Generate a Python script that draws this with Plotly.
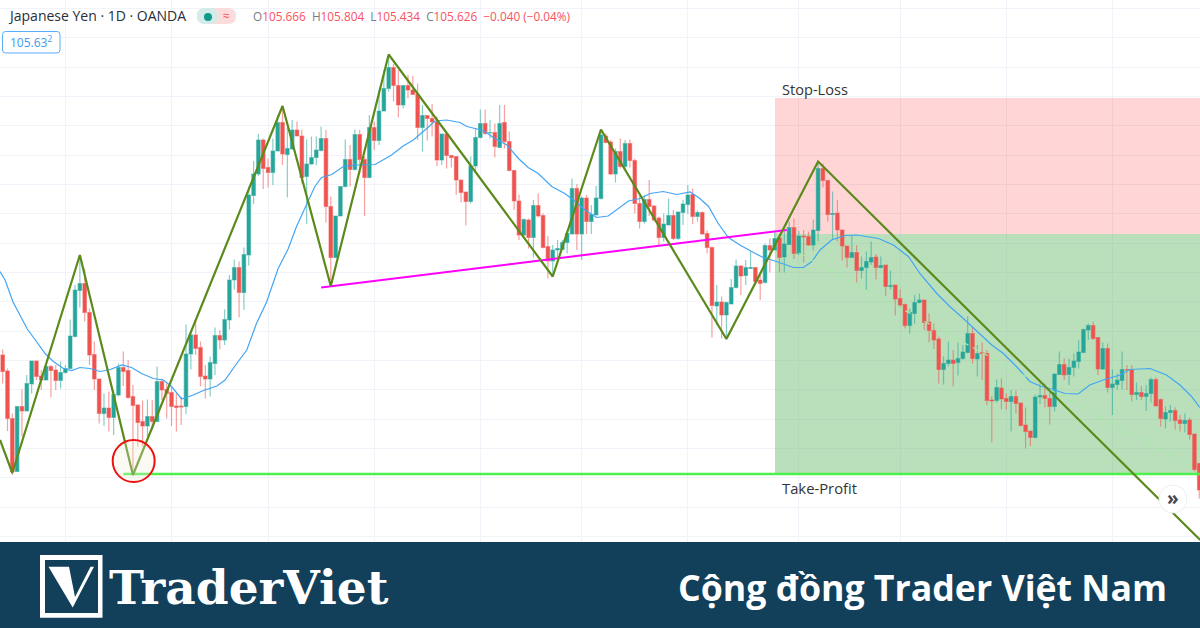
import plotly.graph_objects as go

# Daily candles (bar index = position in list)
open_ = [108.3,107.98,107.03,105.97,107.27,107.18,107.72,108.18,107.88,107.8,
108.07,108.0,107.79,107.95,108.03,108.67,109.59,109.73,109.15,108.31,
107.82,107.13,107.24,107.05,107.5,108.05,107.99,107.47,107.3,106.97,
106.88,107.07,106.97,107.77,107.61,107.55,107.28,107.28,107.27,108.32,
108.7,108.45,107.88,107.82,108.13,108.69,108.6,109.0,109.8,110.05,
109.55,110.3,111.49,111.92,112.6,112.05,111.95,112.38,112.95,112.31,
112.42,112.8,112.68,111.87,112.12,112.25,112.39,112.63,111.27,110.25,
111.08,111.67,112.21,112.01,112.71,112.21,111.85,112.85,112.59,113.18,
113.63,114.05,113.69,113.3,113.69,113.6,113.51,112.85,113.09,113.03,
112.96,112.2,112.72,112.29,112.27,111.8,111.56,111.37,112.08,112.65,
112.93,112.74,112.75,112.45,112.95,112.57,111.99,111.38,110.7,111.0,
110.65,111.29,111.09,110.47,110.18,110.4,110.41,110.55,110.72,111.63,
110.72,111.44,110.97,111.1,111.43,112.68,112.56,111.92,112.37,112.07,
112.53,112.19,111.33,110.97,111.41,111.28,111.04,110.65,110.9,111.09,
110.63,111.15,111.31,111.51,111.07,111.15,110.73,110.45,109.28,109.36,
109.1,109.32,109.65,110.08,109.89,110.03,110.05,109.8,109.75,110.49,
110.4,110.64,110.26,110.51,110.85,110.33,110.68,110.67,110.5,110.79,
112.03,111.79,111.11,111.14,110.8,110.48,110.25,110.35,109.99,110.05,
110.16,110.26,110.05,110.1,109.67,109.7,109.43,109.31,108.89,109.13,
109.35,109.4,108.96,108.79,108.62,108.01,108.13,108.2,108.15,108.23,
108.35,108.73,108.22,108.35,108.33,107.4,107.39,107.64,107.43,107.37,
107.47,107.34,106.9,106.78,106.65,107.46,107.49,107.43,107.27,107.91,
108.11,107.91,108.05,108.17,108.35,108.8,108.89,108.65,108.02,108.43,
107.65,107.71,107.79,108.01,108.01,107.51,107.55,107.47,107.53,107.81,
107.41,107.02,107.15,107.19,107.0,106.93,107.0,106.72,106.13]

close = [107.97,107.03,105.97,107.27,107.18,107.73,108.18,107.87,107.8,108.07,
107.99,107.79,107.95,108.03,108.68,109.6,109.73,109.15,108.3,107.82,
107.13,107.24,107.05,107.51,108.05,107.97,107.45,107.29,106.95,106.88,
107.07,106.97,107.77,107.6,107.53,107.27,107.25,107.26,108.32,108.7,
108.43,107.87,107.82,108.15,108.69,108.6,109.01,109.8,110.05,109.55,
110.31,111.5,111.92,112.6,112.03,111.95,112.38,112.95,112.32,112.43,
112.8,112.68,111.85,112.12,112.25,112.4,112.63,111.27,110.25,111.08,
111.67,112.21,112.01,112.71,112.21,111.85,112.85,112.59,113.18,113.63,
114.05,113.69,113.3,113.69,113.6,113.51,112.85,113.09,113.03,112.96,
112.2,112.72,112.29,112.25,111.8,111.55,111.37,112.08,112.65,112.93,
112.73,112.75,112.47,112.93,112.57,111.99,111.38,110.7,111.01,110.65,
111.29,111.08,110.45,110.18,110.4,110.43,110.55,110.73,111.63,110.72,
111.44,110.97,111.11,111.44,112.7,112.55,111.92,112.37,112.07,112.53,
112.19,111.33,110.97,111.41,111.27,111.0,110.65,110.92,111.09,110.63,
111.16,111.32,111.5,111.07,111.15,110.72,110.45,109.29,109.36,109.1,
109.35,109.65,110.08,109.88,110.05,110.05,109.77,109.73,110.49,110.4,
110.63,110.25,110.52,110.85,110.33,110.68,110.66,110.5,110.8,112.03,
111.79,111.11,111.13,110.8,110.48,110.25,110.35,109.99,110.05,110.17,
110.25,110.05,110.09,109.67,109.69,109.42,109.3,108.89,109.15,109.35,
109.4,108.95,108.79,108.6,108.01,108.13,108.2,108.13,108.23,108.36,
108.73,108.23,108.33,108.33,107.39,107.38,107.65,107.42,107.37,107.47,
107.33,106.89,106.77,106.65,107.46,107.49,107.43,107.27,107.92,108.11,
107.9,108.05,108.18,108.36,108.81,108.89,108.63,108.02,108.43,107.65,
107.72,107.8,108.01,108.0,107.51,107.55,107.47,107.53,107.81,107.28,
107.03,107.15,107.19,106.99,106.93,106.99,106.71,106.01,105.6]

high = [108.41,108.03,107.13,107.27,107.61,107.9,108.18,108.18,108.0,108.1,
108.1,108.1,108.17,108.1,109.01,109.7,110.3,110.03,109.23,108.57,
107.82,107.53,107.57,107.6,108.13,108.37,108.2,107.7,107.32,107.39,
107.41,107.4,108.07,107.83,107.73,107.67,107.53,107.47,108.91,108.77,
109.03,108.57,108.1,108.27,108.85,108.8,109.21,109.9,110.21,110.17,
110.45,111.67,112.18,112.72,112.63,112.23,112.63,113.1,113.27,112.85,
113.0,112.97,112.81,112.61,112.67,112.67,112.87,112.8,111.47,111.08,
111.67,112.61,112.5,112.81,112.8,112.27,113.1,112.97,113.6,114.0,
114.3,114.12,114.0,113.7,113.9,113.88,113.73,113.3,113.1,113.32,
113.07,112.73,112.73,112.3,112.27,111.8,111.56,112.27,112.83,113.21,
113.21,113.0,112.93,113.3,113.3,112.77,112.0,111.51,111.03,111.03,
111.4,111.53,111.13,110.68,110.5,110.6,110.6,110.8,111.83,111.72,
111.48,111.5,111.3,111.68,112.8,112.73,112.6,112.43,112.63,112.6,
112.61,112.23,111.48,111.5,111.8,111.3,111.07,111.13,111.43,111.2,
111.17,111.4,111.7,111.63,111.19,111.17,110.79,110.47,109.7,109.47,
109.37,109.82,110.21,110.1,110.2,110.37,110.05,109.9,110.53,110.63,
110.77,110.64,110.77,110.97,111.03,110.78,110.8,110.77,111.01,112.17,
112.13,111.8,111.57,111.4,110.81,110.48,110.68,110.5,110.27,110.37,
110.57,110.32,110.27,110.1,109.99,109.7,109.61,109.33,109.23,109.5,
109.53,109.41,109.13,108.93,108.67,108.27,108.57,108.4,108.55,108.5,
109.08,108.87,108.5,108.55,108.4,107.48,107.81,107.83,107.53,107.6,
107.59,107.35,107.25,106.78,107.51,107.73,107.73,107.55,107.92,108.37,
108.23,108.23,108.33,108.6,108.83,108.93,108.97,108.65,108.55,108.53,
108.01,107.93,108.37,108.1,108.1,107.75,107.68,107.7,107.85,107.85,
107.43,107.27,107.3,107.25,107.1,107.13,107.05,106.73,106.13]

low = [107.73,106.78,105.9,105.97,106.67,107.18,107.53,107.8,107.6,107.8,
107.45,107.6,107.63,107.93,108.03,108.65,109.25,108.97,108.1,107.6,
106.93,106.88,106.77,106.7,107.47,107.68,107.42,105.9,106.47,106.47,
106.67,106.8,106.97,107.4,107.03,106.88,106.77,106.9,107.12,108.01,
108.3,107.67,107.43,107.47,107.9,108.41,108.5,108.81,109.61,109.05,
109.2,110.09,111.32,111.88,111.62,111.65,111.7,112.37,112.1,111.45,
112.4,112.67,111.73,110.92,112.1,112.1,112.37,110.95,109.8,110.25,
111.07,111.65,111.67,111.99,111.93,111.08,111.83,112.4,112.5,113.18,
113.57,113.37,113.05,113.23,113.43,113.5,112.6,112.37,112.59,112.67,
112.08,112.1,112.03,112.05,111.5,111.35,110.89,111.33,111.97,112.63,
112.7,112.63,112.25,112.45,112.43,111.97,111.2,110.6,110.67,110.43,
110.25,111.05,110.43,109.83,109.87,110.23,110.4,110.33,110.72,110.4,
110.2,110.72,110.72,111.1,111.41,112.53,111.9,111.75,112.03,112.03,
112.05,111.13,110.83,110.93,111.08,110.97,110.47,110.57,110.9,110.6,
110.6,110.9,111.12,110.92,110.97,110.7,110.33,108.65,108.9,108.63,
108.63,109.32,109.63,109.5,109.7,110.03,109.73,109.4,109.73,109.95,
110.4,109.95,109.95,110.5,110.22,110.3,110.15,110.48,110.39,110.57,
111.65,110.97,110.6,110.57,110.19,110.05,110.25,109.75,109.83,109.6,
110.1,109.81,110.03,109.48,109.61,109.09,109.25,108.83,108.73,108.93,
109.33,108.8,108.55,108.42,107.73,107.71,108.07,107.67,107.89,108.2,
108.33,108.13,107.87,107.8,107.3,106.55,107.35,107.21,107.21,106.77,
107.13,106.87,106.43,106.48,106.63,107.32,107.25,106.91,107.17,107.9,
107.8,107.7,107.87,108.03,108.35,108.6,108.6,107.9,108.0,107.55,
107.1,107.61,107.61,107.6,107.37,107.4,107.4,107.18,107.35,107.27,
106.87,106.83,106.97,106.81,106.77,106.75,106.61,105.97,105.43]

# Moving average, read at these bars
ma_x = [-0.55,0.5,2.1,2.9,5.1,7,8.8,10.5,12.6,14.3,16,18.1,20.2,22.3,24.7,26.7,28.8,31.2,33.3,35,37.1,39.5,41.6,44.4,46.1,48.5,50.6,52.6,54.7,
57.1,59.2,60.9,63,64.7,66.1,68.2,70.6,73.4,77.2,80.6,83,85.1,87.9,89.6,92,94.8,96.2,99.6,102,
104.5,106.9,108.9,111,113.8,116.5,118.3,120.7,123.1,125.5,127.6,129.7,132.1,134.2,136.9,139.7,142.5,144.5,146.3,148.3,150.4,152.8,155.6,157.6,
160.4,163.9,166,167.7,169.4,171.8,174.6,177,181.5,184.6,187.7,190.1,193.6,196.3,199.1,202.5,205,207.4,210.1,212.9,215,217.7,220.2,222.9,225.3,228.1,231.6,233.6,237.8,241.2,244,246.4,248.1]
ma_y = [109.97,109.8,109.37,109.23,108.82,108.57,108.33,108.17,108.03,107.99,108.05,108.03,107.97,108.01,108.1,108.05,107.93,107.83,107.8,107.67,107.42,107.5,107.59,107.68,107.8,108.13,108.4,108.93,109.36,
110.03,110.43,110.87,111.3,111.67,111.85,111.91,112.07,112.1,112.11,112.3,112.48,112.6,112.83,112.98,113.0,112.95,112.87,112.79,112.63,
112.5,112.23,112.05,111.93,111.67,111.53,111.4,111.2,111.05,111.08,111.23,111.38,111.43,111.53,111.57,111.51,111.56,111.43,111.27,110.93,110.65,110.5,110.35,110.25,
110.17,110.05,110.05,110.17,110.4,110.6,110.69,110.7,110.63,110.5,110.27,109.93,109.53,109.27,109.03,108.73,108.5,108.33,108.07,107.77,107.68,107.61,107.53,107.52,107.7,107.8,107.9,108.01,108.03,107.9,107.7,107.47,107.25]

# Drawings
zigzag_x = [-0.55,2,16,27,58,68,80,114,124,150,169,248.2]
zigzag_y = [106.6,105.94,110.3,105.9,113.28,109.68,114.31,109.87,112.81,108.62,112.17,104.6]
trend_x = [66,162.5]
trend_y = [109.65,110.8]
target_x = [25,248.2]
target_y = [105.92,105.92]
path_x = [165,247]
path_y = [110.34,106.04]
stop_price = 113.44
entry_price = 110.72
profit_price = 105.92
entry_bar = 160.07
last_bar = 248.2
month_bars = [13,35,55,77,99,120,142,165,186,208,230]
grid_first = 110.534
grid_step = 0.5866

header_title = "Japanese Yen · 1D · OANDA"
ohlc_labels = ["O","H","L","C"]
ohlc_values = ["105.666","105.804","105.434","105.626"]
change_text = "−0.040 (−0.04%)"

Y_TOP = 115.4
Y_BOTTOM = 102.84
X_LEFT = -0.553
X_RIGHT = 248.15

assert len(open_) == len(close) == len(high) == len(low)
bars = list(range(len(open_)))

UP = "#26a69a"
DOWN = "#ef5350"
OLIVE = "#5b8a1b"

fig = go.Figure()
fig.add_trace(go.Candlestick(
    x=bars, open=open_, high=high, low=low, close=close,
    whiskerwidth=0,
    increasing=dict(fillcolor=UP, line=dict(color="rgba(38,166,154,0.55)", width=1.2)),
    decreasing=dict(fillcolor=DOWN, line=dict(color="rgba(239,83,80,0.55)", width=1.2)),
    hoverinfo="skip", showlegend=False))
fig.add_trace(go.Scatter(x=ma_x, y=ma_y, mode="lines", line=dict(color="#42a5f5", width=1.2), hoverinfo="skip", showlegend=False))
fig.add_trace(go.Scatter(x=path_x, y=path_y, mode="lines", line=dict(color="#a5eaa5", width=1.2, dash="6px,5px"), hoverinfo="skip", showlegend=False))
fig.add_trace(go.Scatter(x=target_x, y=target_y, mode="lines", line=dict(color="#4df04d", width=2.5), hoverinfo="skip", showlegend=False))
fig.add_trace(go.Scatter(x=trend_x, y=trend_y, mode="lines", line=dict(color="#ff00ff", width=2), hoverinfo="skip", showlegend=False))
fig.add_trace(go.Scatter(x=zigzag_x, y=zigzag_y, mode="lines", line=dict(color=OLIVE, width=2.2), hoverinfo="skip", showlegend=False))

def px(v):
    return v / 1200
def py(v):
    return 1 - v / 628
def poly(points):
    return "M" + " L".join(f"{px(a):.5f},{py(b):.5f}" for a, b in points) + " Z"
def rounded(x0, y0, x1, y1, r):
    return (f"M{px(x0+r):.5f},{py(y0):.5f} L{px(x1-r):.5f},{py(y0):.5f} Q{px(x1):.5f},{py(y0):.5f} {px(x1):.5f},{py(y0+r):.5f} "
            f"L{px(x1):.5f},{py(y1-r):.5f} Q{px(x1):.5f},{py(y1):.5f} {px(x1-r):.5f},{py(y1):.5f} "
            f"L{px(x0+r):.5f},{py(y1):.5f} Q{px(x0):.5f},{py(y1):.5f} {px(x0):.5f},{py(y1-r):.5f} "
            f"L{px(x0):.5f},{py(y0+r):.5f} Q{px(x0):.5f},{py(y0):.5f} {px(x0+r):.5f},{py(y0):.5f} Z")

NAVY = "#123f5a"
shapes = [
    dict(type="rect", xref="x", yref="y", x0=entry_bar, x1=last_bar, y0=entry_price, y1=stop_price,
         fillcolor="rgba(255,0,0,0.165)", line_width=0, layer="between"),
    dict(type="rect", xref="x", yref="y", x0=entry_bar, x1=last_bar, y0=profit_price, y1=entry_price,
         fillcolor="rgba(76,175,80,0.39)", line_width=0, layer="between"),
    dict(type="circle", xref="x", yref="y", x0=22.8, x1=31.5, y0=105.76, y1=106.6,
         fillcolor="rgba(240,240,215,0.3)", line=dict(color="#ee1111", width=2), layer="above"),
    # scroll button
    dict(type="circle", xref="paper", yref="paper", x0=px(1159), x1=px(1187), y0=py(513), y1=py(485),
         fillcolor="white", line=dict(color="#eceef2", width=1), layer="above"),
    # status pill
    dict(type="path", xref="paper", yref="paper", path=rounded(197, 8, 236, 24, 8), fillcolor="#fbdcdc", line_width=0, layer="above"),
    dict(type="path", xref="paper", yref="paper", path=rounded(197, 8, 218, 24, 8), fillcolor="#d3ecea", line_width=0, layer="above"),
    dict(type="circle", xref="paper", yref="paper", x0=px(204), x1=px(212), y0=py(21), y1=py(13), fillcolor="#109a8c", line_width=0, layer="above"),
    # price box
    dict(type="path", xref="paper", yref="paper", path=rounded(2.5, 31.5, 60, 53, 3), fillcolor="white",
         line=dict(color="#5aaef5", width=1), layer="above"),
    # footer band and logo
    dict(type="rect", xref="paper", yref="paper", x0=0, x1=1, y0=0, y1=py(542), fillcolor=NAVY, line_width=0, layer="above"),
    dict(type="rect", xref="paper", yref="paper", x0=px(40), x1=px(102.5), y0=py(617.7), y1=py(555), fillcolor="white", line_width=0, layer="above"),
    dict(type="rect", xref="paper", yref="paper", x0=px(45), x1=px(98), y0=py(613), y1=py(560), fillcolor=NAVY, line_width=0, layer="above"),
    dict(type="path", xref="paper", yref="paper", fillcolor="white", line_width=0, layer="above",
         path=poly([(48.5, 566.7), (69, 566.7), (75, 597), (90.5, 566.7), (94, 566.7), (72.7, 607.5)])),
]

def ann(x, y, text, size, color, anchor="left", family="Open Sans", **kw):
    return dict(xref="paper", yref="paper", x=px(x), y=py(y), text=text, showarrow=False,
                xanchor=anchor, yanchor="middle", font=dict(family=family, size=size, color=color), **kw)

ohlc_html = "&nbsp;&nbsp;".join(
    f'<span style="color:#787b86">{l}</span>{v}' for l, v in zip(ohlc_labels, ohlc_values)
) + "&nbsp;&nbsp;" + change_text

annotations = [
    ann(6, 16, header_title, 14, "#2a2e39"),
    ann(226.5, 16, "≈", 12, "#ef5350", anchor="center"),
    ann(251, 16, ohlc_html, 11.8, "#f7525f"),
    ann(8, 42, '105.63<sup>2</sup>', 12, "#3b9cf0"),
    dict(xref="x", yref="y", x=161.1, y=stop_price + 0.18, text="Stop-Loss", showarrow=False, xanchor="left", yanchor="middle",
         font=dict(family="Open Sans", size=14.6, color="#333333")),
    dict(xref="x", yref="y", x=161.1, y=profit_price - 0.28, text="Take-Profit", showarrow=False, xanchor="left", yanchor="middle",
         font=dict(family="Open Sans", size=14.8, color="#333333")),
    ann(1173, 498, "<b>»</b>", 19, "#434651", anchor="center"),
    ann(107, 587, "<b>TraderViet</b>", 47, "white", family="DejaVu Serif"),
    ann(1168.5, 587, "<b>Cộng đồng Trader Việt Nam</b>", 35.7, "white", anchor="right"),
]

fig.update_layout(
    width=1200, height=628, margin=dict(l=0, r=0, t=0, b=0),
    paper_bgcolor="white", plot_bgcolor="white", showlegend=False,
    boxgap=0.28, boxgroupgap=0,
    shapes=shapes, annotations=annotations,
    xaxis=dict(range=[X_LEFT, X_RIGHT], rangeslider=dict(visible=False), showticklabels=False, ticks="",
               tickmode="array", tickvals=month_bars, showgrid=True, gridcolor="#f0f3fa", gridwidth=1, zeroline=False, showline=False),
    yaxis=dict(range=[Y_BOTTOM, Y_TOP], showticklabels=False, ticks="",
               tick0=grid_first, dtick=grid_step, showgrid=True, gridcolor="#f0f3fa", gridwidth=1, zeroline=False, showline=False),
)
fig.write_html("out.html", config=dict(displayModeBar=False),
               post_script="document.body.style.margin='0';document.body.style.overflow='hidden';")
